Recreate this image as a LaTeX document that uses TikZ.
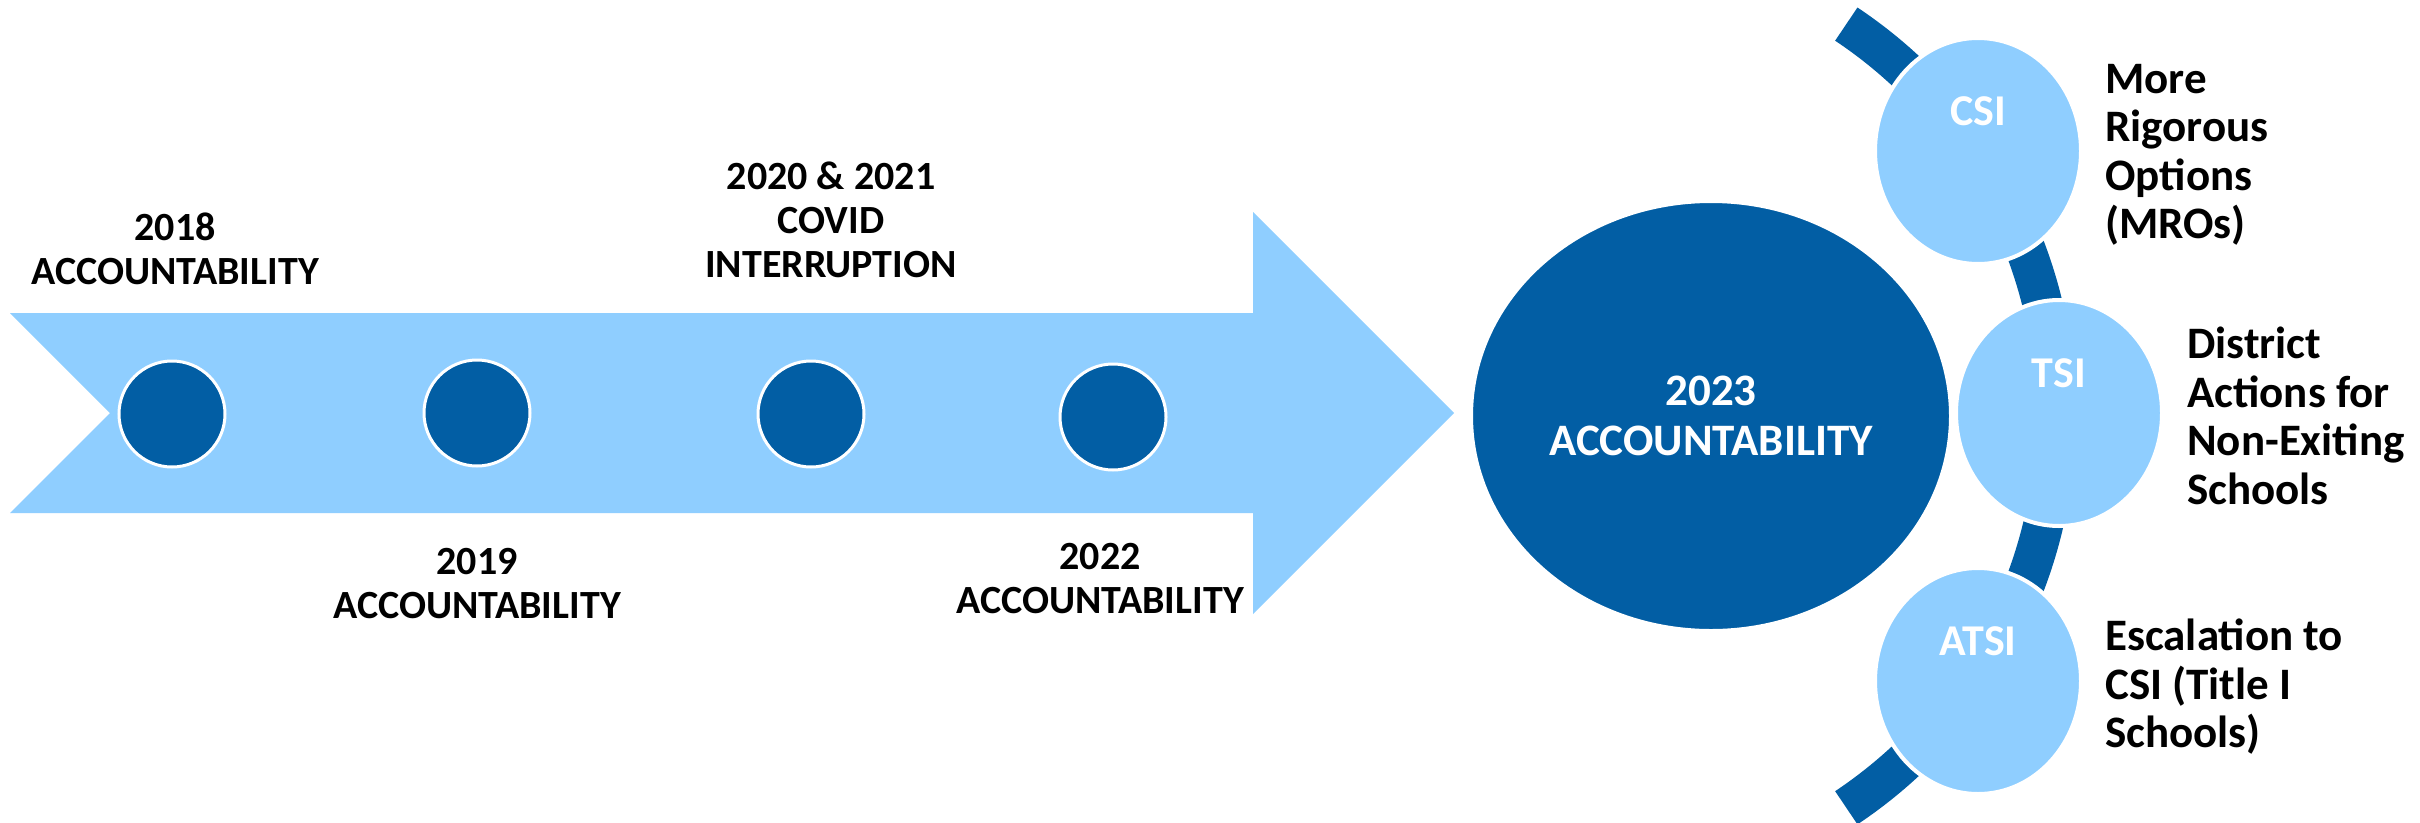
\documentclass[tikz,border=0pt]{standalone}
\usepackage{fontspec}
\setmainfont{Carlito}
\usetikzlibrary{shapes.geometric}
\definecolor{dblue}{RGB}{2,94,164}
\definecolor{lblue}{RGB}{143,206,255}
\begin{document}
\begin{tikzpicture}[x=1pt,y=-1pt,
  dot/.style={circle,fill=dblue,draw=white,line width=3pt,minimum size=106pt,inner sep=0pt},
  ltext/.style={align=center,anchor=north,inner sep=0pt,font=\fontsize{40}{44}\selectfont\bfseries},
  rtext/.style={align=left,anchor=north west,inner sep=0pt,font=\fontsize{45}{48.5}\selectfont\bfseries},
  bigell/.style={ellipse,fill=dblue,draw=white,line width=4pt,minimum width=480pt,minimum height=430pt,inner sep=0pt,align=center,text=white,font=\fontsize{45}{50}\selectfont\bfseries},
  subell/.style={ellipse,fill=lblue,draw=white,line width=4pt,minimum width=206pt,minimum height=226pt,inner sep=0pt},
  sublbl/.style={inner sep=0pt,text=white,font=\fontsize{44}{49}\selectfont\bfseries}]
\useasboundingbox (0,0) rectangle (2420,822);
\fill[white] (0,0) rectangle (2420,822);
% timeline arrow
\fill[lblue] (10,313) -- (1253,313) -- (1253,212) -- (1454,413) -- (1253,614) -- (1253,513) -- (10,513) -- (110,413) -- cycle;
% milestones
\node[dot] (d2018) at (172,414) {};
\node[dot] (d2019) at (477,413) {};
\node[dot] (d2020) at (811,414) {};
\node[dot] (d2022) at (1113,417) {};
% milestone labels
\node[ltext] (t2018) at (175,213) {2018\\ACCOUNTABILITY};
\node[ltext] (t2020) at (831,162) {2020 \& 2021\\COVID\\INTERRUPTION};
\node[ltext] (t2019) at (477,548) {2019\\ACCOUNTABILITY};
\node[ltext] (t2022) at (1100,543) {2022\\ACCOUNTABILITY};
% 2023
\node[bigell] (big) at (1711,416) {2023\\ACCOUNTABILITY};
% arc
\coordinate (arcstart) at (1846.3,24.1);
\draw[dblue,line width=40pt] (arcstart) arc[start angle=56.3,end angle=-56.3,radius=471pt];
% sub circles
\node[subell] (csi) at (1978,151) {};
\node[subell] (tsi) at (2059,413) {};
\node[subell] (atsi) at (1978,681) {};
\node[sublbl] (csil) at (1978,111) {CSI};
\node[sublbl] (tsil) at (2059,373) {TSI};
\node[sublbl] (atsil) at (1978,641) {ATSI};
% descriptions
\node[rtext] (csid) at (2105,64) {More\\Rigorous\\Options\\(MROs)};
\node[rtext] (tsid) at (2187,327) {District\\Actions for\\Non-Exiting\\Schools};
\node[rtext] (atsid) at (2105,619) {Escalation to\\CSI (Title I\\Schools)};
\end{tikzpicture}
\end{document}
